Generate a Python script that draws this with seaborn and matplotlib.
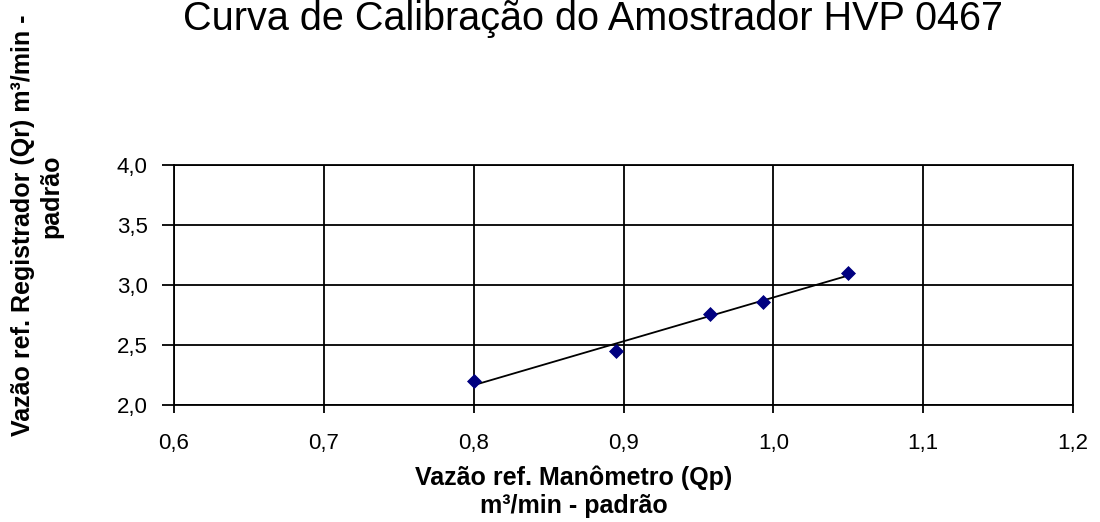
import numpy as np
import pandas as pd
import matplotlib
matplotlib.use("Agg")
import matplotlib.pyplot as plt
import seaborn as sns
from matplotlib.ticker import FuncFormatter, MultipleLocator

qp = [0.800, 0.895, 0.958, 0.993, 1.050]
qr = [2.20, 2.45, 2.76, 2.86, 3.10]
title = "Curva de Calibração do Amostrador HVP 0467"
xlabel = "Vazão ref. Manômetro (Qp)\nm³/min - padrão"
ylabel_lines = ["Vazão ref. Registrador (Qr) m³/min -", "padrão"]

df = pd.DataFrame({"Qp": qp, "Qr": qr})

sns.set_theme(style="white")
plt.rcParams["font.family"] = ["Liberation Sans", "DejaVu Sans"]

W, H = 1100, 522
fig = plt.figure(figsize=(W / 100, H / 100), dpi=100)
ax = fig.add_axes([174 / W, 1 - 405 / H, (1073 - 174) / W, (405 - 165) / H])

# trend line
m, b = np.polyfit(df["Qp"], df["Qr"], 1)
xs = np.array([df["Qp"].min(), df["Qp"].max()])
sns.lineplot(x=xs, y=m * xs + b, ax=ax, color="black", linewidth=1.3, zorder=3)
sns.scatterplot(data=df, x="Qp", y="Qr", ax=ax, marker="D", s=50,
                color="#000080", edgecolor="#000080", zorder=4)

ax.set_xlim(0.6, 1.2)
ax.set_ylim(2.0, 4.0)
ax.xaxis.set_major_locator(MultipleLocator(0.1))
ax.yaxis.set_major_locator(MultipleLocator(0.5))
fmt = FuncFormatter(lambda v, p: f"{v:.1f}".replace(".", ","))
ax.xaxis.set_major_formatter(fmt)
ax.yaxis.set_major_formatter(fmt)
ax.grid(True, color="black", linewidth=1.3)
ax.set_axisbelow(True)
for s in ax.spines.values():
    s.set_color("black")
    s.set_linewidth(1.3)
ax.tick_params(axis="both", direction="out", width=1.3, color="black",
               labelsize=16, labelcolor="black", bottom=True, left=True)
ax.tick_params(axis="x", length=6, pad=14)
ax.tick_params(axis="y", length=9, pad=10)

ax.set_xlabel("")
ax.set_ylabel("")
fig.text(574 / W, 1 - 492 / H, xlabel, ha="center", va="center", fontsize=18,
         fontweight="bold", color="black", linespacing=1.2)
fig.text(23 / W, 1 - 225 / H, ylabel_lines[0], ha="center", va="center", rotation=90,
         fontsize=18, fontweight="bold", color="black")
fig.text(51 / W, 1 - 196 / H, ylabel_lines[1], ha="center", va="center", rotation=90,
         fontsize=18, fontweight="bold", color="black")
fig.text(593 / W, 1 - 30 / H, title, ha="center", va="baseline", fontsize=28.5, color="black")

fig.savefig("out.png", dpi=100)
